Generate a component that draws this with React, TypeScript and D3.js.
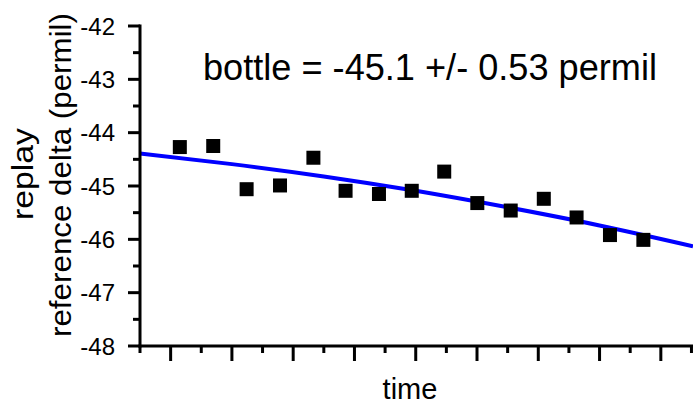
import React from "react";
import * as d3 from "d3";

// measured data points (arbitrary time units)
const times = [1.3, 2.39, 3.48, 4.57, 5.66, 6.71, 7.8, 8.87, 9.93, 11.01, 12.1, 13.18, 14.25, 15.34, 16.43];
const deltas = [-44.27, -44.25, -45.06, -44.99, -44.47, -45.09, -45.15, -45.09, -44.73, -45.32, -45.46, -45.24, -45.59, -45.92, -46.01];

// fitted curve
const fitTimes = [0, 3, 6, 9, 12, 15, 18.05];
const fitDeltas = [-44.39, -44.59, -44.82, -45.09, -45.4, -45.74, -46.13];

const yTickLabels = ["-48", "-47", "-46", "-45", "-44", "-43", "-42"];
const yMajorTicks = [-48, -47, -46, -45, -44, -43, -42];
const yMinorTicks = [-47.5, -46.5, -45.5, -44.5, -43.5, -42.5];
const xMajorTicks = [1, 3, 5, 7, 9, 11, 13, 15, 17];
const xMinorTicks = [0, 2, 4, 6, 8, 10, 12, 14, 16, 18];

const annotation = "bottle = -45.1 +/- 0.53 permil";
const xTitle = "time";
const yTitle1 = "replay";
const yTitle2 = "reference delta (permil)";

export default function App() {
  const W = 693, H = 405;
  const left = 140, right = 693, top = 26, bottom = 346;
  const x = d3.scaleLinear().domain([0, 18.05]).range([left, right]);
  const y = d3.scaleLinear().domain([-48, -42]).range([bottom, top]);
  const fitData = fitTimes.map((t, i) => [t, fitDeltas[i]] as [number, number]);
  const line = d3
    .line<[number, number]>()
    .x((d) => x(d[0]))
    .y((d) => y(d[1]))
    .curve(d3.curveNatural);
  const font = "'Liberation Sans', Arial, sans-serif";
  const ms = 14;
  return (
    <svg
      width={W}
      height={H}
      style={{ position: "absolute", left: 0, top: 0, background: "#fff" }}
      fontFamily={font}
    >
      <rect x={0} y={0} width={W} height={H} fill="#fff" />
      {/* fit line */}
      <path d={line(fitData) || ""} fill="none" stroke="#0000ff" strokeWidth={4} />
      {/* points */}
      {times.map((t, i) => (
        <rect key={i} x={x(t) - ms / 2} y={y(deltas[i]) - ms / 2} width={ms} height={ms} fill="#000" />
      ))}
      {/* axes */}
      <line x1={left} x2={left} y1={top - 1.5} y2={bottom + 1.5} stroke="#000" strokeWidth={3} />
      <line x1={left - 1.5} x2={right} y1={bottom} y2={bottom} stroke="#000" strokeWidth={3} />
      {yMajorTicks.map((v, i) => (
        <g key={"ym" + i}>
          <line x1={left - 12} x2={left} y1={y(v)} y2={y(v)} stroke="#000" strokeWidth={3} />
          <text x={115} y={y(v) + 8.6} fontSize={24} textAnchor="end" fill="#000">
            {yTickLabels[i]}
          </text>
        </g>
      ))}
      {yMinorTicks.map((v, i) => (
        <line key={"yn" + i} x1={left - 7} x2={left} y1={y(v)} y2={y(v)} stroke="#000" strokeWidth={3} />
      ))}
      {xMajorTicks.map((t, i) => (
        <line key={"xm" + i} x1={x(t)} x2={x(t)} y1={bottom} y2={bottom + 15} stroke="#000" strokeWidth={3} />
      ))}
      {xMinorTicks.map((t, i) => (
        <line key={"xn" + i} x1={x(t)} x2={x(t)} y1={bottom} y2={bottom + 7} stroke="#000" strokeWidth={3} />
      ))}
      {/* titles */}
      <text x={410} y={399} fontSize={29} textAnchor="middle" fill="#000">
        {xTitle}
      </text>
      <text
        transform="translate(33,174) rotate(-90)"
        fontSize={30}
        textAnchor="middle"
        fill="#000"
        textLength={92}
        lengthAdjust="spacingAndGlyphs"
      >
        {yTitle1}
      </text>
      <text
        transform="translate(71,175) rotate(-90)"
        fontSize={30}
        textAnchor="middle"
        fill="#000"
        textLength={324}
        lengthAdjust="spacingAndGlyphs"
      >
        {yTitle2}
      </text>
      <text x={203} y={80} fontSize={36} fill="#000" textLength={454} lengthAdjust="spacingAndGlyphs">
        {annotation}
      </text>
    </svg>
  );
}
